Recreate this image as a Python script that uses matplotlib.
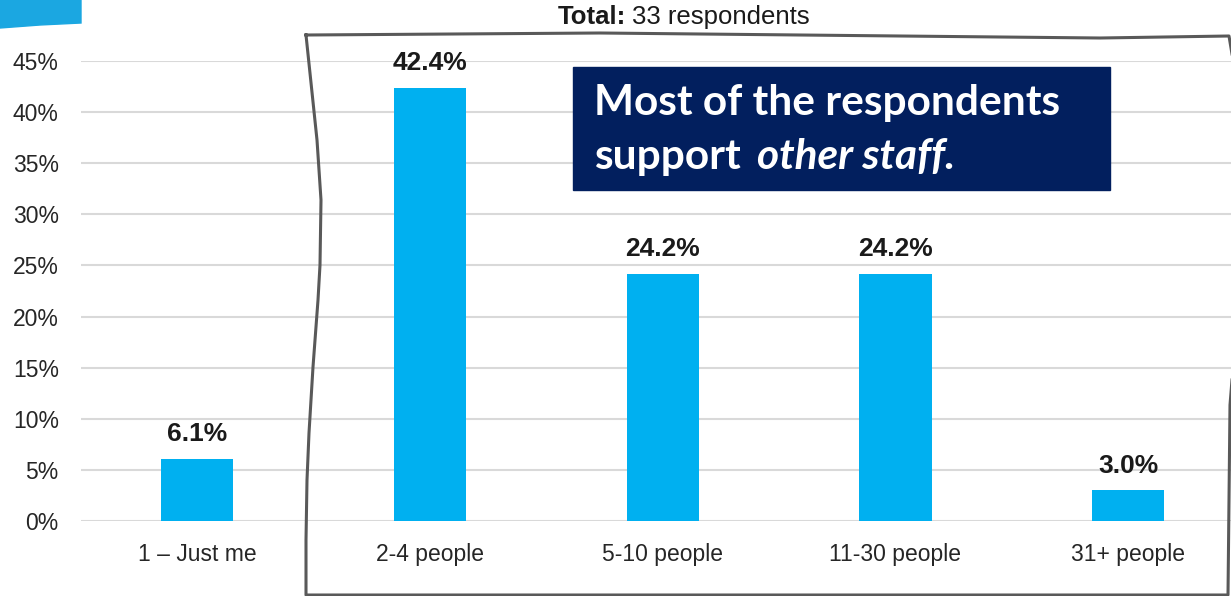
import matplotlib
matplotlib.use("Agg")
import matplotlib.pyplot as plt
from matplotlib.patches import Rectangle, Polygon
from matplotlib.lines import Line2D

# data
categories = ["1 \u2013 Just me", "2-4 people", "5-10 people", "11-30 people", "31+ people"]
values = [6.1, 42.4, 24.2, 24.2, 3.0]
yticks = [0, 5, 10, 15, 20, 25, 30, 35, 40, 45]

W, H = 1231, 596
fig = plt.figure(figsize=(W / 100, H / 100), dpi=100)
fig.patch.set_facecolor("white")

def px(x, y):
    # pixel position -> figure fraction
    return x / W, 1 - y / H

ax = fig.add_axes([81 / W, 1 - 521 / H, (1244.5 - 81) / W, (521 - 61) / H])
x = range(len(categories))
ax.bar(x, values, width=0.31, color="#00b0f0", zorder=3)
ax.set_xlim(-0.5, len(categories) - 0.5)
ax.set_ylim(0, 45)
ax.set_yticks(yticks)
ax.set_yticklabels([f"{t}%" for t in yticks], fontsize=16.5, color="#262626", family="Liberation Sans")
ax.set_xticks(list(x))
ax.set_xticklabels(categories, fontsize=16.5, color="#262626", family="Liberation Sans")
ax.tick_params(axis="y", length=0, pad=16)
ax.tick_params(axis="x", length=0, pad=16)
ax.grid(axis="y", color="#d9d9d9", lw=1.5, zorder=0)
for s in ax.spines.values():
    s.set_visible(False)
for i, v in enumerate(values):
    ax.annotate(f"{v:.1f}%", (i, v), xytext=(0, 9), textcoords="offset points",
                ha="center", va="bottom", fontsize=19, fontweight="bold",
                color="#1a1a1a", family="Liberation Sans")

# top-left accent shape
blue = Polygon([px(0, 0), px(81, 0), px(81, 23), px(40, 25), px(0, 28)],
               closed=True, transform=fig.transFigure, color="#1ba7e1", zorder=5)
fig.patches.append(blue)

# hand-drawn frame around bars 2-5
frame = [(306, 35), (600, 33), (900, 36), (1100, 38), (1229, 36),
         (1233, 60), (1238, 200), (1236, 330), (1230, 405), (1228, 595),
         (306, 595), (306, 540), (307, 480), (309, 433), (313, 367),
         (318, 300), (320, 265), (321, 200), (317, 140), (306, 35)]
fx = [px(a, b)[0] for a, b in frame]
fy = [px(a, b)[1] for a, b in frame]
fig.lines.append(Line2D(fx, fy, transform=fig.transFigure, color="#595959", lw=2.2, zorder=6))

# title
fig.text(*px(626, 17), "Total:", ha="right", va="center", fontsize=18.5,
         fontweight="bold", family="Liberation Sans", color="#1a1a1a")
fig.text(*px(632, 17), "33 respondents", ha="left", va="center", fontsize=18.5,
         family="Liberation Sans", color="#1a1a1a")

# callout box
fig.patches.append(Rectangle(px(573, 190), (1110 - 573) / W, (190 - 67) / H,
                             transform=fig.transFigure, color="#021f5e", zorder=7))
fig.text(*px(594, 103), "Most of the respondents", ha="left", va="center",
         fontsize=30.5, fontweight="bold", family="Lato", color="white", zorder=8)
t2 = fig.text(*px(594, 157), "support", ha="left", va="center",
              fontsize=30.5, fontweight="bold", family="Lato", color="white", zorder=8)
fig.canvas.draw()
bb = t2.get_window_extent()
fig.text((bb.x1 + 16) / W, 1 - 157 / H, "other staff.", ha="left", va="center",
         fontsize=30.5, fontweight="bold", style="italic", family="Lato",
         color="white", zorder=8)

fig.savefig("out.png", dpi=100)
